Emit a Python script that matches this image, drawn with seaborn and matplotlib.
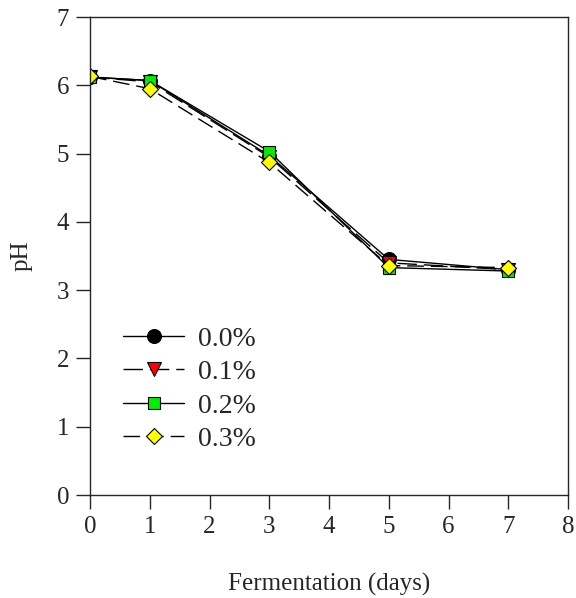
import matplotlib
matplotlib.use("Agg")
import matplotlib.pyplot as plt
import seaborn as sns
import pandas as pd

days = [0, 1, 3, 5, 7]
ph_00 = [6.12, 6.07, 4.97, 3.45, 3.30]
ph_01 = [6.12, 6.05, 4.95, 3.40, 3.30]
ph_02 = [6.12, 6.07, 5.03, 3.33, 3.28]
ph_03 = [6.13, 5.95, 4.87, 3.36, 3.33]
labels = ["0.0%", "0.1%", "0.2%", "0.3%"]

rows = []
for lab, vals in zip(labels, [ph_00, ph_01, ph_02, ph_03]):
    for d, v in zip(days, vals):
        rows.append({"day": d, "pH": v, "conc": lab})
df = pd.DataFrame(rows)

sns.set_style("ticks")
plt.rcParams["font.family"] = ["Liberation Serif", "DejaVu Serif"]

fig = plt.figure(figsize=(5.76, 5.98), dpi=100)
ax = fig.add_axes([90/576, 1-495/598, (568-90)/576, (495-17)/598])

styles = {
    "0.0%": dict(marker="o", color="black", mfc="black", ls="-", ms=10),
    "0.1%": dict(marker="v", color="black", mfc="red", ls=(0, (14, 5)), ms=10),
    "0.2%": dict(marker="s", color="black", mfc="#00ee00", ls="-", ms=8.5),
    "0.3%": dict(marker="D", color="black", mfc="yellow", ls=(0, (12, 5)), ms=8.5),
}
for lab in labels:
    sub = df[df["conc"] == lab]
    st = styles[lab]
    sns.lineplot(data=sub, x="day", y="pH", ax=ax, color=st["color"],
                 linestyle=st["ls"], marker=st["marker"], markersize=st["ms"],
                 markerfacecolor=st["mfc"], markeredgecolor="black",
                 markeredgewidth=0.8, linewidth=1.0, label=lab)

ax.set_xlim(0, 8)
ax.set_ylim(0, 7)
ax.set_xticks(range(0, 9))
ax.set_yticks(range(0, 8))
ax.tick_params(direction="out", length=10, width=1, labelsize=18, pad=5)
for s in ax.spines.values():
    s.set_visible(True)
    s.set_linewidth(1.0)
ax.set_xlabel("Fermentation (days)", fontsize=18, labelpad=25)
ax.set_ylabel("pH", fontsize=18, labelpad=17)

leg = ax.legend(loc="upper left", bbox_to_anchor=(0.069, 0.353), frameon=False,
                borderpad=0, borderaxespad=0,
                fontsize=20, handlelength=2.2, handletextpad=0.5, labelspacing=0.29)

fig.savefig("out.png", dpi=100)
